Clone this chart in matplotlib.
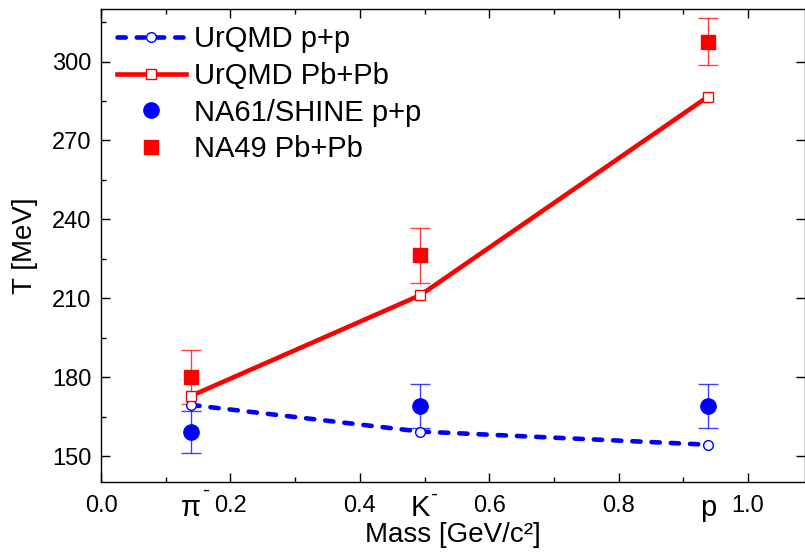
import matplotlib
matplotlib.use("Agg")
import matplotlib.pyplot as plt
from matplotlib.ticker import MultipleLocator

plt.rcParams['font.family'] = ['Liberation Sans', 'DejaVu Sans']

# массы частиц (GeV/c^2): pi-, K-, p
masses = [0.1396, 0.4937, 0.9383]
particle_labels = ["π", "K", "p"]
particle_minus = [True, True, False]

# модель UrQMD
urqmd_pp = [169.4, 159.3, 154.3]
urqmd_pbpb = [172.9, 211.2, 286.7]

# данные экспериментов
na61_pp = [159.0, 169.0, 169.0]
na61_pp_err = [8.0, 8.4, 8.5]
na49_pbpb = [180.0, 226.3, 307.6]
na49_pbpb_err = [10.2, 10.5, 9.0]

fig = plt.figure(figsize=(8.05, 5.53), dpi=100)
ax = fig.add_axes([101 / 805, 70.7 / 553, 704 / 805, 473.3 / 553])

# ошибки отдельно, чтобы в легенде был только маркер
ax.errorbar(masses, na61_pp, yerr=na61_pp_err, fmt="none", ecolor="#0000ff",
            elinewidth=1, capsize=7, capthick=1, alpha=0.75, zorder=2)
ax.errorbar(masses, na49_pbpb, yerr=na49_pbpb_err, fmt="none", ecolor="#ff0000",
            elinewidth=1, capsize=7, capthick=1, alpha=0.75, zorder=2)

ax.plot(masses, urqmd_pp, color="#0000ff", lw=3.3, linestyle=(0, (1.8, 2.4)),
        dash_capstyle="round", marker="o", ms=7, mfc="white", mec="#0000ff",
        mew=1, label="UrQMD p+p", zorder=4)
ax.plot(masses, urqmd_pbpb, color="#ff0000", lw=3.3, marker="s", ms=7,
        mfc="white", mec="#ff0000", mew=1, label="UrQMD Pb+Pb", zorder=4)
ax.plot(masses, na61_pp, linestyle="none", marker="o", ms=11, color="#0000ff",
        label="NA61/SHINE p+p", zorder=5)
ax.plot(masses, na49_pbpb, linestyle="none", marker="s", ms=9.5, color="#ff0000",
        label="NA49 Pb+Pb", zorder=5)

ax.set_xlim(0, 1.088)
ax.set_ylim(140, 320)
ax.xaxis.set_major_locator(MultipleLocator(0.2))
ax.xaxis.set_minor_locator(MultipleLocator(0.1))
ax.yaxis.set_major_locator(MultipleLocator(30))
ax.yaxis.set_minor_locator(MultipleLocator(15))
ax.set_xticks([0.0, 0.2, 0.4, 0.6, 0.8, 1.0])
ax.set_xticklabels(["0.0", "0.2", "0.4", "0.6", "0.8", "1.0"])

ax.tick_params(which="both", direction="in", top=True, right=True, width=1,
               labelsize=17)
ax.tick_params(which="major", length=6.5)
ax.tick_params(which="minor", length=3.3)
ax.tick_params(axis="y", which="minor", right=False)
ax.tick_params(axis="x", pad=9)
ax.tick_params(axis="y", pad=7)
for sp in ax.spines.values():
    sp.set_linewidth(1)

# подписи частиц под осью
for xm, lab, has_minus in zip(masses, particle_labels, particle_minus):
    ax.annotate(lab, xy=(xm, 0), xycoords=("data", "axes fraction"),
                xytext=(0, -24.3), textcoords="offset points",
                ha="center", va="baseline", fontsize=21)
    if has_minus:
        dx = 10 if lab == "π" else 9.5
        dy = -9.5 if lab == "π" else -12.5
        ax.annotate("-", xy=(xm, 0), xycoords=("data", "axes fraction"),
                    xytext=(dx, dy), textcoords="offset points",
                    ha="center", va="baseline", fontsize=15)

ax.set_xlabel("Mass [GeV/c²]", fontsize=20, labelpad=4)
ax.set_ylabel("T [MeV]", fontsize=20, labelpad=10)

ax.legend(loc="upper left", frameon=False, fontsize=21, handlelength=2.35,
          handletextpad=0.3, labelspacing=0.3, borderaxespad=0.2,
          borderpad=0.35)

fig.savefig("out.png", dpi=100)
